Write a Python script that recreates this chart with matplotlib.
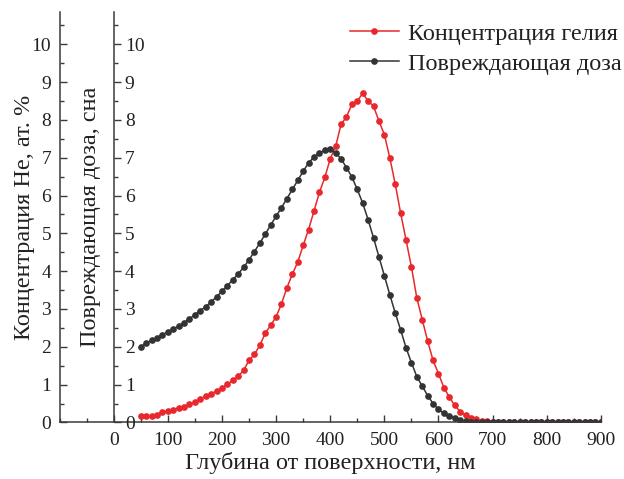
import matplotlib
matplotlib.use('Agg')
import matplotlib.pyplot as plt
import matplotlib.transforms as mtransforms
import numpy as np
from matplotlib.ticker import MultipleLocator


FILE = 'out.png'

DEPTH = list(range(50, 901, 10))

HELIUM = [
    0.17, 0.17, 0.18, 0.21, 0.27, 0.30, 0.34, 0.39, 0.42, 0.48,
    0.54, 0.63, 0.69, 0.76, 0.83, 0.91, 1.01, 1.11, 1.22, 1.38,
    1.64, 1.80, 2.04, 2.36, 2.57, 2.79, 3.14, 3.56, 3.92, 4.24,
    4.68, 5.10, 5.59, 6.08, 6.48, 6.97, 7.30, 7.88, 8.08, 8.41,
    8.50, 8.70, 8.50, 8.36, 7.97, 7.61, 7.00, 6.31, 5.54, 4.83,
    4.11, 3.29, 2.72, 2.15, 1.64, 1.29, 0.92, 0.67, 0.45, 0.29,
    0.19, 0.12, 0.08, 0.05, 0.03, 0.02, 0.01, 0.01, 0.01, 0.01,
    0.01, 0.01, 0.01, 0.01, 0.01, 0.01, 0.01, 0.01, 0.01, 0.01,
    0.01, 0.01, 0.01, 0.01, 0.01, 0.01,
]

DAMAGE = [
    2.00, 2.10, 2.17, 2.24, 2.32, 2.40, 2.47, 2.55, 2.64, 2.74,
    2.85, 2.96, 3.06, 3.19, 3.32, 3.47, 3.62, 3.77, 3.93, 4.10,
    4.30, 4.52, 4.74, 4.98, 5.22, 5.45, 5.68, 5.92, 6.16, 6.40,
    6.64, 6.86, 7.02, 7.12, 7.20, 7.22, 7.13, 6.97, 6.74, 6.49,
    6.16, 5.80, 5.36, 4.88, 4.38, 3.88, 3.38, 2.90, 2.45, 1.98,
    1.58, 1.21, 0.96, 0.71, 0.50, 0.35, 0.24, 0.17, 0.11, 0.06,
    0.03, 0.02, 0.01, 0.01, 0.01, 0.01, 0.01, 0.01, 0.01, 0.01,
    0.01, 0.01, 0.01, 0.01, 0.01, 0.01, 0.01, 0.01, 0.01, 0.01,
    0.01, 0.01, 0.01, 0.01, 0.01, 0.01,
]

X_TICKS = list(range(0, 901, 100))
Y_TICKS = list(range(0, 11))

RED = '#e8282c'
DARK = '#333333'
SPINE = '#3a3a3a'
TEXT = '#222222'


def main():
    plt.rcParams['font.family'] = ['Liberation Serif', 'DejaVu Serif']

    fig = plt.figure(figsize=(6.24, 4.79), dpi=100)
    ax = fig.add_axes([0.0954, 0.118, 0.963 - 0.0954, 0.9756 - 0.118])

    # curves
    ax.plot(DEPTH, HELIUM, color=RED, lw=1.1, marker='o', ms=3.8,
            label='Концентрация гелия')
    ax.plot(DEPTH, DAMAGE, color=DARK, lw=1.1, marker='o', ms=3.8,
            label='Повреждающая доза')

    ax.set_xlim(-100, 900)
    ax.set_ylim(0, 10.86)

    ax.set_xticks(X_TICKS)
    ax.xaxis.set_minor_locator(MultipleLocator(50))
    ax.set_yticks(Y_TICKS)
    ax.yaxis.set_minor_locator(MultipleLocator(0.5))

    for side in ('top', 'right'):
        ax.spines[side].set_visible(False)
    for side in ('left', 'bottom'):
        ax.spines[side].set_color(SPINE)
        ax.spines[side].set_linewidth(1.1)

    ax.tick_params(which='both', direction='in', colors=SPINE, width=1.0,
                   labelcolor=TEXT, labelsize=14)
    ax.tick_params(which='major', length=5)
    ax.tick_params(which='minor', length=3)
    ax.tick_params(axis='x', pad=7)
    ax.tick_params(axis='y', pad=6)

    # second axis drawn at depth 0
    ax2 = ax.twinx()
    ax2.set_ylim(ax.get_ylim())
    ax2.set_yticks(Y_TICKS)
    ax2.yaxis.set_minor_locator(MultipleLocator(0.5))
    for side in ('top', 'left', 'bottom'):
        ax2.spines[side].set_visible(False)
    ax2.spines['right'].set_position(('data', 0))
    ax2.spines['right'].set_color(SPINE)
    ax2.spines['right'].set_linewidth(1.1)
    ax2.tick_params(which='both', direction='out', colors=SPINE, width=1.0,
                    labelcolor=TEXT, labelsize=14, pad=3)
    ax2.tick_params(which='major', length=5)
    ax2.tick_params(which='minor', length=3)

    # labels
    ax.set_xlabel('Глубина от поверхности, нм', fontsize=17.5, color=TEXT,
                  labelpad=2)
    trans = mtransforms.blended_transform_factory(ax.transData, ax.transAxes)
    ax.text(-164, 0.5, 'Концентрация He, ат. %', transform=trans, rotation=90,
            ha='center', va='center', fontsize=17.5, color=TEXT)
    ax.text(-42, 0.5, 'Повреждающая доза, сна', transform=trans, rotation=90,
            ha='center', va='center', fontsize=17.5, color=TEXT)

    ax.legend(loc='upper right', bbox_to_anchor=(0.997, 0.952),
              bbox_transform=fig.transFigure, frameon=False, fontsize=17.5,
              handlelength=2.05, handletextpad=0.37, labelspacing=0.32,
              borderpad=0.0, borderaxespad=0.0, labelcolor=TEXT)

    fig.savefig(FILE, dpi=100)


if __name__ == '__main__':
    main()
